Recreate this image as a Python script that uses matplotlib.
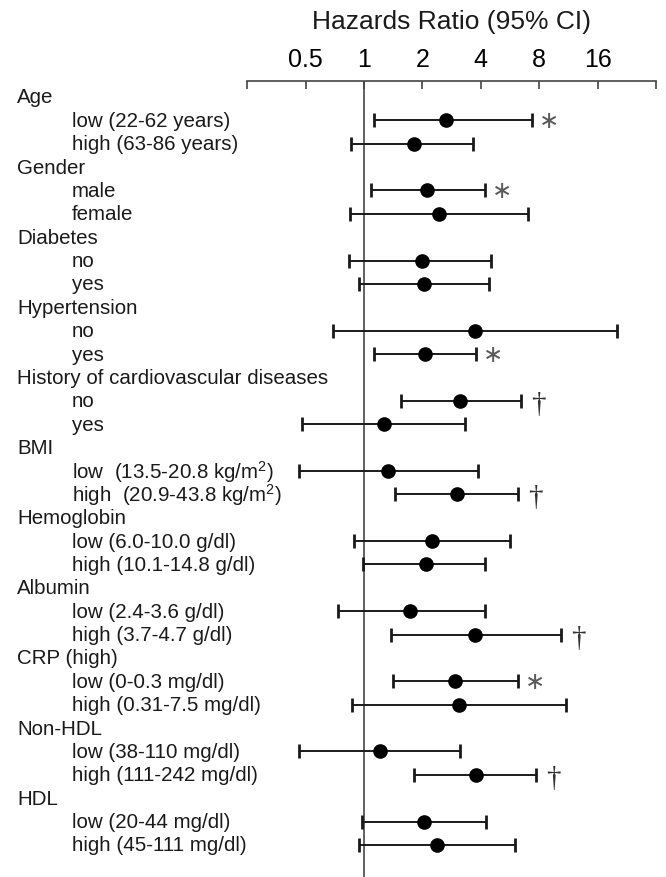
import numpy as np
import matplotlib.pyplot as plt
from matplotlib.transforms import blended_transform_factory

plt.rcParams['font.family'] = ['Liberation Sans', 'DejaVu Sans']
plt.rcParams['mathtext.fontset'] = 'custom'
plt.rcParams['mathtext.rm'] = 'Liberation Sans'

#group headers and the two subgroups under each
groups = ['Age', 'Gender', 'Diabetes', 'Hypertension',
          'History of cardiovascular diseases', 'BMI', 'Hemoglobin',
          'Albumin', 'CRP (high)', 'Non-HDL', 'HDL']
sub_labels = ['low (22-62 years)', 'high (63-86 years)',
              'male', 'female',
              'no', 'yes',
              'no', 'yes',
              'no', 'yes',
              'low  (13.5-20.8 kg/m$\\mathregular{^2}$)', 'high  (20.9-43.8 kg/m$\\mathregular{^2}$)',
              'low (6.0-10.0 g/dl)', 'high (10.1-14.8 g/dl)',
              'low (2.4-3.6 g/dl)', 'high (3.7-4.7 g/dl)',
              'low (0-0.3 mg/dl)', 'high (0.31-7.5 mg/dl)',
              'low (38-110 mg/dl)', 'high (111-242 mg/dl)',
              'low (20-44 mg/dl)', 'high (45-111 mg/dl)']

#hazard ratios and 95% CI
hr = np.array([2.65, 1.80, 2.12, 2.42, 2.00, 2.03, 3.74, 2.07, 3.11, 1.27, 1.33,
               3.00, 2.25, 2.08, 1.72, 3.74, 2.95, 3.07, 1.21, 3.76, 2.03, 2.38])
ci_lo = np.array([1.12, 0.86, 1.08, 0.85, 0.84, 0.94, 0.69, 1.13, 1.55, 0.48, 0.46,
                  1.44, 0.885, 0.99, 0.73, 1.37, 1.41, 0.87, 0.46, 1.80, 0.98, 0.94])
ci_hi = np.array([7.3, 3.66, 4.21, 7.0, 4.52, 4.43, 20.1, 3.77, 6.48, 3.31, 3.86,
                  6.25, 5.66, 4.21, 4.18, 10.4, 6.2, 11.0, 3.11, 7.71, 4.23, 5.98])
#significance marks
marks = ['*', '', '*', '', '', '', '', '*', '\u2020', '', '',
         '\u2020', '', '', '', '\u2020', '*', '', '', '\u2020', '', '']

ticks = [0.25, 0.5, 1, 2, 4, 8, 16, 32]
tick_labels = ['', '0.5', '1', '2', '4', '8', '16', '']

fig = plt.figure(figsize=(6.66, 8.78), dpi=100)
ax = fig.add_axes([0.3713, 0.0, 0.6137, 0.9066])

#row positions: header, then two subrows per group
n_groups = len(groups)
head_y = np.arange(n_groups) * 3
sub_y = np.array([[g * 3 + 1, g * 3 + 2] for g in range(n_groups)]).ravel()

ax.axvline(1, color='#555555', lw=1.3, zorder=1)
ax.errorbar(hr, sub_y, xerr=[hr - ci_lo, ci_hi - hr], fmt='o', color='black',
            ecolor='#1a1a1a', elinewidth=1.4, capsize=4.7, capthick=2.0,
            markersize=9.5, zorder=3)

for i in range(len(hr)):
    if marks[i] == '*':
        ax.annotate('\u2217', xy=(ci_hi[i], sub_y[i]), xytext=(7, 0),
                    textcoords='offset pixels', ha='left', va='center',
                    fontsize=17.5, color='#5a5a5a', family='DejaVu Sans')
    elif marks[i] != '':
        ax.annotate(marks[i], xy=(ci_hi[i], sub_y[i]), xytext=(10, -3),
                    textcoords='offset pixels', ha='left', va='center',
                    fontsize=21, color='#333333', family='Liberation Serif')

ax.set_xscale('log', base=2)
ax.set_xlim(0.25, 32)
row0 = 0.68
ax.set_ylim(3 * n_groups - 1 + 1.37, -row0)

ax.xaxis.set_ticks_position('top')
ax.set_xticks(ticks)
ax.set_xticklabels(tick_labels, fontsize=18)
ax.xaxis.set_minor_locator(plt.NullLocator())
ax.tick_params(axis='x', direction='in', length=6, width=1.2, color='#444444', pad=7)
ax.set_yticks([])
for s in ['left', 'right', 'bottom']:
    ax.spines[s].set_visible(False)
ax.spines['top'].set_color('#444444')
ax.spines['top'].set_linewidth(1.2)

trans = blended_transform_factory(fig.transFigure, ax.transData)
for g in range(n_groups):
    ax.text(17 / 666, head_y[g], groups[g], transform=trans, ha='left',
            va='center', fontsize=14.8, color='#1a1a1a', clip_on=False)
for i in range(len(sub_labels)):
    ax.text(72 / 666, sub_y[i], sub_labels[i], transform=trans, ha='left',
            va='center', fontsize=14.8, color='#1a1a1a', clip_on=False)

fig.text(452 / 666, 1 - 22 / 878, 'Hazards Ratio (95% CI)', ha='center',
         va='center', fontsize=19, color='#1a1a1a')

plt.savefig('out.png', dpi=100)
